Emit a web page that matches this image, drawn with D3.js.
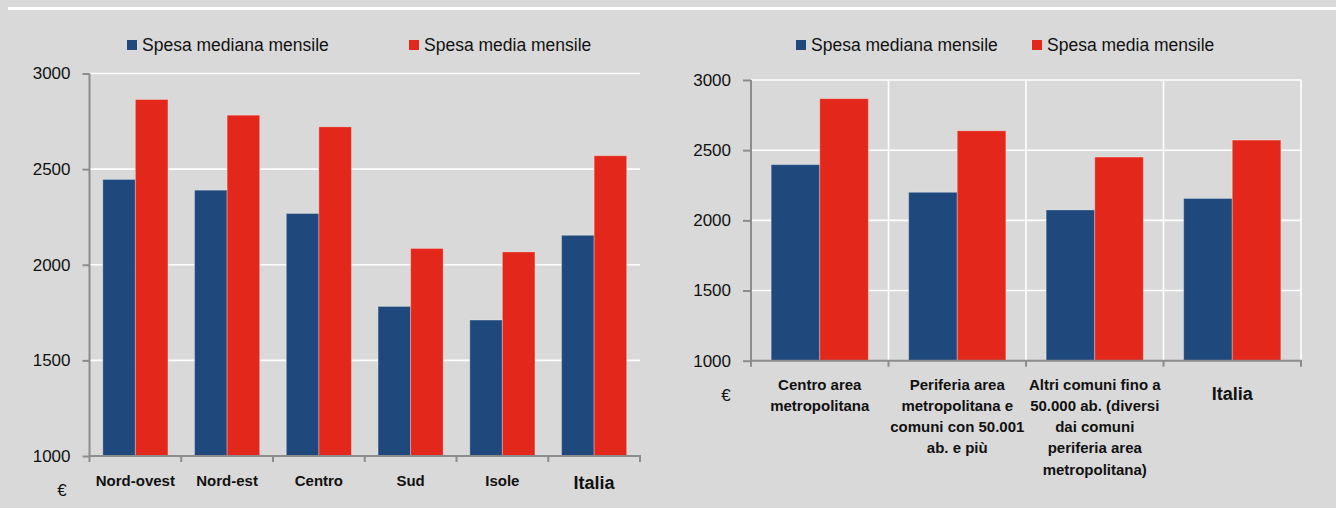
<!DOCTYPE html>
<html>
<head>
<meta charset="utf-8">
<script src="https://cdn.jsdelivr.net/npm/d3@7"></script>
<style>
  html, body { margin: 0; padding: 0; background: #d9d9d9; }
  svg { display: block; font-family: "Liberation Sans", Arial, sans-serif; }
</style>
</head>
<body>
<svg id="chart" width="1336" height="508"></svg>
<script>
// ---- Data ----
const seriesNames = ["Spesa mediana mensile", "Spesa media mensile"];
const seriesColors = ["#1f497d", "#e3271a"];
const yTicks = [1000, 1500, 2000, 2500, 3000];

const leftCategories = ["Nord-ovest", "Nord-est", "Centro", "Sud", "Isole", "Italia"];
const leftMedian = [2446, 2390, 2268, 1782, 1711, 2154];
const leftMean = [2864, 2782, 2721, 2085, 2067, 2570];

const rightCategories = [
  "Centro area\nmetropolitana",
  "Periferia area\nmetropolitana e\ncomuni con 50.001\nab. e più",
  "Altri comuni fino a\n50.000 ab. (diversi\ndai comuni\nperiferia area\nmetropolitana)",
  "Italia"
];
const rightMedian = [2397, 2200, 2074, 2156];
const rightMean = [2867, 2638, 2451, 2572];

const svg = d3.select("#chart");

// top white rule
svg.append("rect").attr("x", 8).attr("y", 7).attr("width", 1328).attr("height", 3).attr("fill", "#ffffff");

function drawChart(cfg) {
  const g = svg.append("g");
  const x0 = d3.scaleBand().domain(cfg.categories).range([cfg.left, cfg.right])
    .paddingInner(cfg.pad).paddingOuter(cfg.pad / 2);
  const x1 = d3.scaleBand().domain(seriesNames).range([0, x0.bandwidth()]).padding(0);
  const y = d3.scaleLinear().domain([1000, 3000]).range([cfg.bottom, cfg.top]);
  const step = x0.step();

  // horizontal gridlines
  g.append("g").selectAll("line").data(yTicks.filter(d => d > 1000)).join("line")
    .attr("x1", cfg.left).attr("x2", cfg.right)
    .attr("y1", d => y(d)).attr("y2", d => y(d))
    .attr("stroke", "#ffffff").attr("stroke-width", 1.6);

  if (cfg.vgrid) {
    const bounds = cfg.categories.map((c, i) => i === 0 ? null : x0(c) - step * cfg.pad / 2).filter(v => v !== null);
    bounds.push(cfg.right);
    g.append("g").selectAll("line").data(bounds).join("line")
      .attr("x1", d => d).attr("x2", d => d)
      .attr("y1", cfg.top).attr("y2", cfg.bottom)
      .attr("stroke", "#ffffff").attr("stroke-width", 1.6);
  }

  // bars
  const rows = cfg.categories.map((c, i) => ({ cat: c, vals: [cfg.median[i], cfg.mean[i]] }));
  const grp = g.append("g").selectAll("g").data(rows).join("g")
    .attr("transform", d => `translate(${x0(d.cat)},0)`);
  grp.selectAll("rect").data(d => d.vals.map((v, k) => ({ s: seriesNames[k], v, k }))).join("rect")
    .attr("x", d => x1(d.s)).attr("width", x1.bandwidth())
    .attr("y", d => y(d.v)).attr("height", d => y(1000) - y(d.v))
    .attr("fill", d => seriesColors[d.k])
    .attr("stroke", "rgba(255,255,255,0.3)").attr("stroke-width", 1);

  // y axis
  const yAxis = g.append("g").attr("transform", `translate(${cfg.left},0)`)
    .call(d3.axisLeft(y).tickValues(yTicks).tickSize(cfg.ytick).tickPadding(cfg.ypad).tickFormat(d3.format("d")));
  yAxis.select(".domain").attr("stroke", "#8c8c8c").attr("stroke-width", 2)
    .attr("d", `M0,${cfg.top}V${cfg.bottom}`);
  yAxis.selectAll(".tick line").attr("stroke", "#8c8c8c").attr("stroke-width", 2);
  yAxis.selectAll(".tick text").attr("fill", "#111").style("font-size", "17px");

  // x axis line + ticks at category boundaries
  const boundaries = [cfg.left].concat(cfg.categories.map(c => x0(c) + x0.bandwidth() + step * cfg.pad / 2));
  g.append("line").attr("x1", cfg.left - 1).attr("x2", cfg.right + 1)
    .attr("y1", cfg.bottom).attr("y2", cfg.bottom)
    .attr("stroke", "#8c8c8c").attr("stroke-width", 2);
  g.append("g").selectAll("line").data(boundaries).join("line")
    .attr("x1", d => d).attr("x2", d => d)
    .attr("y1", cfg.bottom).attr("y2", cfg.bottom + 6)
    .attr("stroke", "#8c8c8c").attr("stroke-width", 2);

  // category labels
  const labels = g.append("g").selectAll("text").data(cfg.categories).join("text")
    .attr("text-anchor", "middle")
    .attr("x", d => x0(d) + x0.bandwidth() / 2)
    .attr("y", d => d === "Italia" ? cfg.italiaBase : cfg.labelBase)
    .attr("fill", "#111")
    .style("font-weight", "bold")
    .style("font-size", d => d === "Italia" ? "18px" : "15px");
  labels.each(function(d) {
    const lines = d.split("\n");
    d3.select(this).selectAll("tspan").data(lines).join("tspan")
      .attr("x", x0(d) + x0.bandwidth() / 2)
      .attr("dy", (l, i) => i === 0 ? 0 : 21.3)
      .text(l => l);
  });

  // euro sign
  g.append("text").attr("x", cfg.euroX).attr("y", cfg.euroY).attr("text-anchor", "middle")
    .attr("fill", "#111").style("font-size", "17px").text("€");

  // legend
  const lg = g.append("g");
  cfg.legendX.forEach((lx, k) => {
    lg.append("rect").attr("x", lx).attr("y", 40).attr("width", 10).attr("height", 10).attr("fill", seriesColors[k]);
    lg.append("text").attr("x", lx + 15).attr("y", 50.5).attr("fill", "#111")
      .style("font-size", "17.5px").text(seriesNames[k]);
  });
}

drawChart({
  categories: leftCategories, median: leftMedian, mean: leftMean,
  left: 89.5, right: 640, top: 73.5, bottom: 456, pad: 0.29,
  ytick: 7, ypad: 12, vgrid: false,
  labelBase: 485.5, italiaBase: 489,
  euroX: 62, euroY: 496,
  legendX: [127, 409]
});

drawChart({
  categories: rightCategories, median: rightMedian, mean: rightMean,
  left: 751, right: 1301, top: 80, bottom: 360.7, pad: 0.293,
  ytick: 8, ypad: 12, vgrid: true,
  labelBase: 389.5, italiaBase: 400,
  euroX: 726, euroY: 401,
  legendX: [796, 1032]
});
</script>
</body>
</html>
